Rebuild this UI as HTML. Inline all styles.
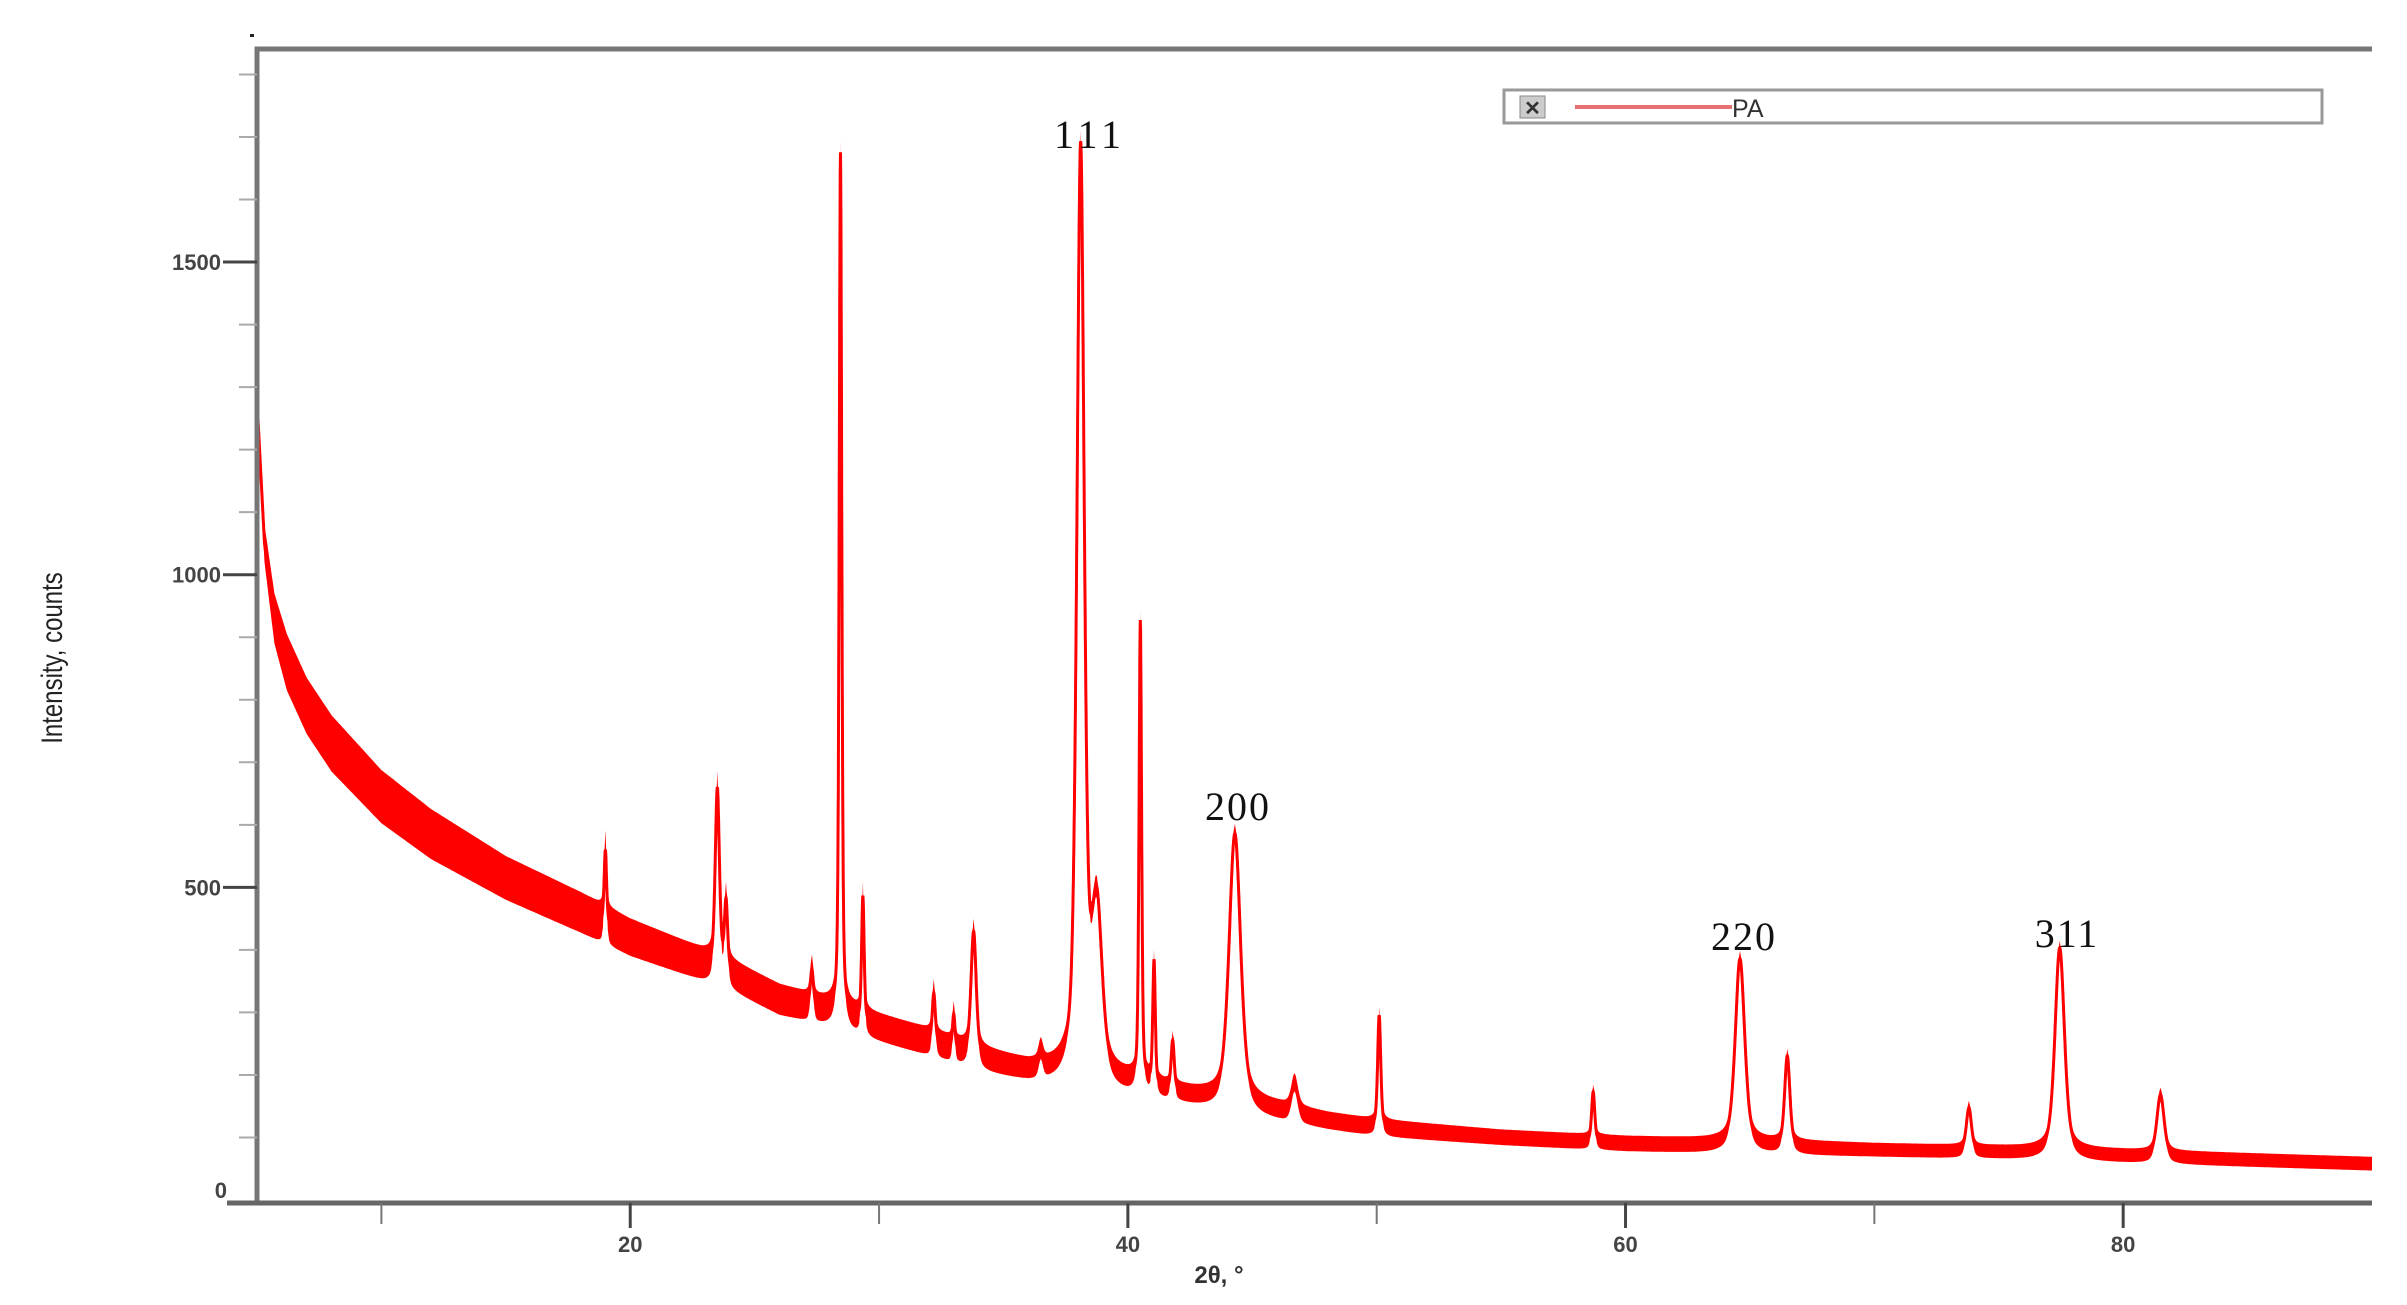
<!DOCTYPE html>
<html><head><meta charset="utf-8"><style>
html,body{margin:0;padding:0;background:#fff;}
svg{display:block;}
</style></head><body>
<svg id="chart" width="2407" height="1305" viewBox="0 0 2407 1305" xmlns="http://www.w3.org/2000/svg">
<rect width="2407" height="1305" fill="#fff"/>
<g id="plot"></g>
<g id="axes"></g>
<g>
<rect x="1504" y="90" width="818" height="33" fill="#fff" stroke="#999" stroke-width="3"/>
<rect x="1520" y="96" width="25" height="22" fill="#ccc" stroke="#888" stroke-width="1"/>
<text x="1532.5" y="115" font-family="Liberation Sans, sans-serif" font-size="20" font-weight="bold" text-anchor="middle" fill="#333">✕</text>
<line x1="1575" y1="107" x2="1732" y2="107" stroke="#e87070" stroke-width="4"/>
<text x="1732" y="117" font-family="Liberation Sans, sans-serif" font-size="25" fill="#333">PA</text>
</g>
<text x="1090" y="148" font-family="Liberation Serif, serif" font-size="40" text-anchor="middle" letter-spacing="5" fill="#111">111</text>
<text x="1238" y="820" font-family="Liberation Serif, serif" font-size="40" text-anchor="middle" letter-spacing="2" fill="#111">200</text>
<text x="1744" y="950" font-family="Liberation Serif, serif" font-size="40" text-anchor="middle" letter-spacing="2" fill="#111">220</text>
<text x="2067" y="947" font-family="Liberation Serif, serif" font-size="40" text-anchor="middle" letter-spacing="2" fill="#111">311</text>
<text transform="translate(62,658) rotate(-90) scale(0.8,1)" font-family="Liberation Sans, sans-serif" font-size="30" text-anchor="middle" fill="#222">Intensity, counts</text>
<text x="1219" y="1283" font-family="Liberation Sans, sans-serif" font-size="24" font-weight="bold" text-anchor="middle" fill="#333">2θ, °</text>
<rect x="250" y="34" width="4" height="3" fill="#222"/>
</svg>
<script>
const bgX = [5, 5.3, 5.7, 6.2, 7, 8, 10, 12, 15, 18, 20, 22, 24, 26, 28, 30, 32, 34, 36, 38, 40, 42, 44, 46, 48, 50, 55, 60, 65, 70, 75, 80, 85, 90];
const bgY = [1280, 1050, 930, 860, 790, 730, 645, 585, 515, 460, 420, 390, 360, 320, 300, 275, 252, 225, 205, 195, 182, 168, 152, 140, 126, 115, 100, 90, 85, 80, 76, 70, 64, 58];
const noiseAmp = [60, 60, 80, 90, 90, 90, 85, 80, 70, 65, 60, 55, 50, 50, 45, 45, 45, 40, 35, 35, 35, 30, 30, 30, 28, 28, 25, 25, 25, 22, 22, 22, 22, 22];
const peakPos = [19.0, 23.5, 23.85, 27.3, 28.45, 29.35, 32.2, 33.0, 33.8, 36.5, 38.1, 38.75, 40.5, 41.05, 41.8, 44.3, 46.7, 50.1, 58.7, 64.6, 66.5, 73.8, 77.45, 81.5];
const peakHeight = [120, 290, 110, 60, 1380, 200, 80, 55, 200, 30, 1480, 260, 740, 200, 80, 435, 50, 180, 80, 300, 145, 70, 330, 100];
const peakWidth = [0.12, 0.2, 0.15, 0.15, 0.12, 0.12, 0.15, 0.12, 0.25, 0.2, 0.35, 0.5, 0.12, 0.12, 0.15, 0.55, 0.3, 0.15, 0.15, 0.45, 0.25, 0.25, 0.45, 0.35];
const xTicks = [20, 40, 60, 80];
const xMinor = [10, 30, 50, 70];
const yTicks = [0, 500, 1000, 1500];
const yMinor = [100,200,300,400,600,700,800,900,1100,1200,1300,1400,1600,1700,1800];

const X0=257, XR=2372, xMin=5, xMax=90, Y0=1200, YT=49, pxPerCount=0.6253;
const sx = v => X0 + (v - xMin) * (XR - X0) / (xMax - xMin);
const sy = v => Y0 - v * pxPerCount;
const NS='http://www.w3.org/2000/svg';
function interp(xs, ys, x){ for(let i=0;i<xs.length-1;i++){ if(x<=xs[i+1]){const t=(x-xs[i])/(xs[i+1]-xs[i]);return ys[i]+t*(ys[i+1]-ys[i]);} } return ys[ys.length-1]; }
function signal(x){ let s=interp(bgX,bgY,x); for(let i=0;i<peakPos.length;i++){const d=(x-peakPos[i])/(peakWidth[i]/2); s+=peakHeight[i]*(0.5/(1+d*d)+0.5*Math.exp(-0.693*d*d));} return s; }
const plot=document.getElementById('plot');
let up=[],lo=[];
for(let x=xMin;x<=xMax;x+=0.05){const s=signal(x),a=interp(bgX,noiseAmp,x);up.push(sx(x).toFixed(1)+','+sy(s+a/2).toFixed(1));lo.unshift(sx(x).toFixed(1)+','+sy(s-a/2).toFixed(1));}
const band=document.createElementNS(NS,'polygon');
band.setAttribute('points',up.concat(lo).join(' '));
band.setAttribute('fill','#ff0000');


plot.appendChild(band);
let pts=[];
for(let x=xMin;x<=xMax;x+=0.01){pts.push(sx(x).toFixed(1)+','+sy(signal(x)).toFixed(1));}
const line=document.createElementNS(NS,'polyline');
line.setAttribute('points',pts.join(' '));
line.setAttribute('fill','none');line.setAttribute('stroke','#ff0000');line.setAttribute('stroke-width','3');


plot.appendChild(line);
const axes=document.getElementById('axes');
function mk(tag,attrs){const e=document.createElementNS(NS,tag);for(const k in attrs)e.setAttribute(k,attrs[k]);axes.appendChild(e);return e;}
let f=mk('polyline',{points:`${X0},${Y0+3} ${X0},${YT} ${XR},${YT}`,fill:'none',stroke:'#777','stroke-width':5});


let xa=mk('line',{x1:X0-30,y1:Y0+3,x2:XR,y2:Y0+3,stroke:'#666','stroke-width':5});


xTicks.forEach(v=>{
 let t=mk('line',{x1:sx(v),y1:Y0+3,x2:sx(v),y2:Y0+28,stroke:'#444','stroke-width':3});
 
 
 let l=mk('text',{x:sx(v),y:Y0+52,'font-family':'Liberation Sans, sans-serif','font-size':22,'font-weight':'bold','text-anchor':'middle',fill:'#444'});
 l.textContent=v;
 
 
});
xMinor.forEach(v=>{
 let t=mk('line',{x1:sx(v),y1:Y0+3,x2:sx(v),y2:Y0+24,stroke:'#777','stroke-width':2});
 
 
});
yTicks.forEach(v=>{
 if(v>0){let t=mk('line',{x1:X0-34,y1:sy(v),x2:X0,y2:sy(v),stroke:'#444','stroke-width':3});
 
 }
 let l=mk('text',{x:v===0?X0-30:X0-36,y:sy(v)+(v===0?-2:8),'font-family':'Liberation Sans, sans-serif','font-size':22,'font-weight':'bold','text-anchor':'end',fill:'#444'});
 l.textContent=v;
 
 
});
yMinor.forEach(v=>{
 let t=mk('line',{x1:X0-18,y1:sy(v),x2:X0,y2:sy(v),stroke:'#aaa','stroke-width':2});
 
 
});
</script>
</body></html>
